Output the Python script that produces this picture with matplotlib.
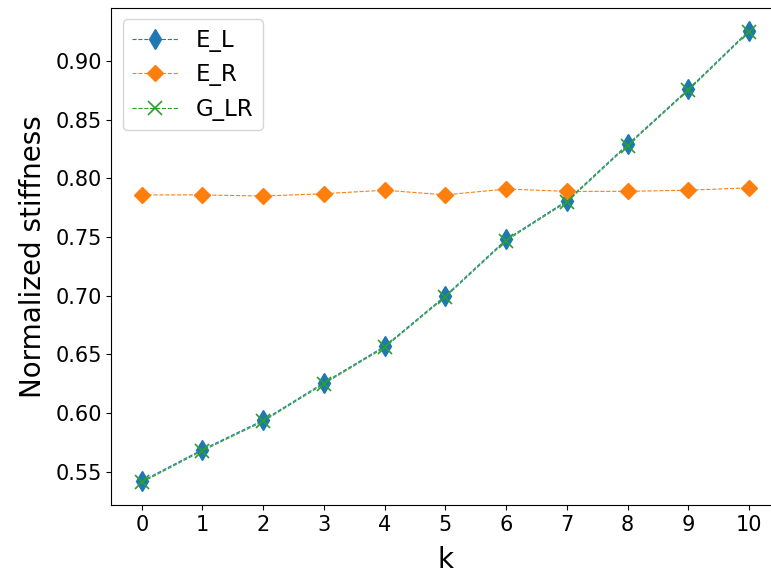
import matplotlib
matplotlib.use("Agg")
import matplotlib.pyplot as plt

k = list(range(11))
E_L = [0.542, 0.569, 0.594, 0.626, 0.657, 0.700, 0.748, 0.781, 0.829, 0.876, 0.926]
E_R = [0.786, 0.786, 0.785, 0.787, 0.790, 0.786, 0.791, 0.789, 0.789, 0.790, 0.792]
G_LR = [0.541, 0.568, 0.593, 0.625, 0.656, 0.699, 0.747, 0.780, 0.828, 0.875, 0.925]

W, H = 771, 576
fig = plt.figure(figsize=(W / 100, H / 100), dpi=100)
ax = fig.add_axes([111.4 / W, 1 - 505 / H, 668 / W, (505 - 8) / H])
ax.plot(k, E_L, linestyle='--', linewidth=0.8, marker='d', markersize=10, label='E_L')
ax.plot(k, E_R, linestyle='--', linewidth=0.8, marker='D', markersize=8.5, label='E_R')
ax.plot(k, G_LR, linestyle='--', linewidth=0.8, marker='x', markersize=10.5,
        markeredgewidth=1.2, label='G_LR')

ax.set_xlim(-0.5, 10.5)
ax.set_xticks(k)
ax.set_xlabel('k', fontsize=20, labelpad=8)
ax.set_ylabel('Normalized stiffness', fontsize=20, labelpad=6)
ax.tick_params(labelsize=15)
ax.legend(fontsize=16.5, loc='upper left')
fig.savefig('out.png', dpi=100)
